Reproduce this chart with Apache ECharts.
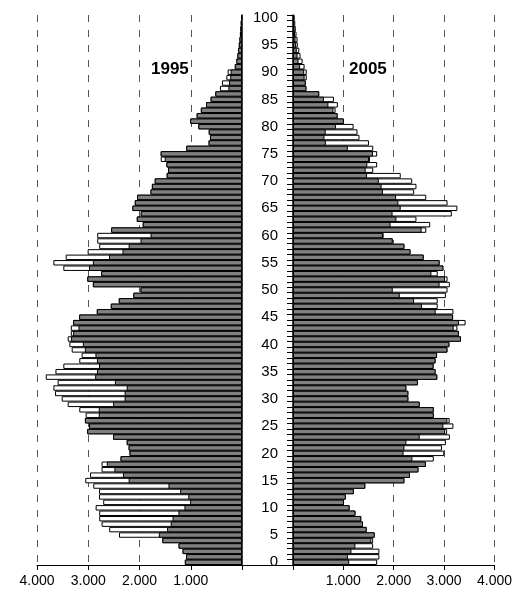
<!DOCTYPE html>
<html>
<head>
<meta charset="utf-8">
<script src="https://cdn.jsdelivr.net/npm/echarts@6/dist/echarts.min.js"></script>
<style>
html,body{margin:0;padding:0;background:#fff;}
#c{width:515px;height:592px;}
</style>
</head>
<body>
<div id="c"></div>
<script>
// Ages 0..100 (bottom to top)
var ages = [];
for (var a = 0; a <= 100; a++) ages.push(String(a));

// Grey series (same on both sides), ages 0..100
var grey = [
1115,1090,1160,1238,1555,1622,1462,1390,1355,1240,
1123,1012,1048,1207,1435,2212,2322,2490,2638,2370,
2195,2212,2250,2515,3020,2985,3065,2795,2795,2515,
2290,2290,2250,2480,2865,2830,2790,2830,2860,3066,
3105,3335,3294,3190,3294,3178,2833,2560,2404,2120,
1980,2910,3018,2748,2985,2910,2595,2332,2212,1980,
1785,2553,1937,2053,1976,2138,2092,2047,1785,1758,
1703,1470,1443,1475,1508,1587,1088,652,625,649,
852,1010,885,803,702,613,520,266,252,230,
222,140,110,90,75,62,50,40,32,25,
15];

// White series, 1995 side, ages 0..100
var white1995 = [
1115,1090,1160,1238,1555,2400,2591,2740,2786,2786,
2856,2708,2790,2790,2902,3058,2965,2740,2740,2370,
2195,2212,2250,2515,3020,2985,3065,3051,3175,3401,
3518,3648,3680,3598,3829,3640,3486,3175,3129,3323,
3369,3401,3340,3340,3294,3178,2833,2560,2404,2120,
1980,2910,3018,2748,3486,3681,3440,3012,2786,2825,
2825,2553,1937,2053,1976,2138,2092,2047,1785,1758,
1703,1470,1443,1475,1586,1587,1088,652,625,649,
852,1010,885,803,702,613,520,430,390,305,
280,140,110,90,75,62,50,40,32,25,
15];

// White series, 2005 side, ages 0..100
var white2005 = [
1671,1715,1715,1591,1591,1622,1462,1390,1355,1240,
1123,1012,1048,1207,1435,2212,2322,2490,2638,2795,
3003,2958,3036,3114,3060,3185,3110,2795,2795,2515,
2290,2290,2250,2480,2865,2830,2790,2830,2860,3066,
3105,3335,3294,3263,3426,3178,3185,2873,2873,3036,
3068,3114,3068,2873,2985,2910,2595,2332,2212,1980,
1800,2646,2724,2451,3153,3263,3068,2646,2405,2451,
2366,2139,1593,1671,1528,1671,1593,1508,1320,1281,
1203,1010,885,845,891,813,520,266,252,273,
273,230,190,150,125,95,90,70,55,45,
35];

var xTicks = [0, 1000, 2000, 3000, 4000];
var yearLeft = '1995', yearRight = '2005';

var FONT = "'Liberation Sans', Arial, sans-serif";
var chart = echarts.init(document.getElementById('c'), null, {renderer: 'canvas'});

function fmt(v){ return v ? (v/1000).toFixed(3) : ''; }

var gridTop = 15, gridH = 550;
var xCommon = function(idx, inverse){
  return {
    gridIndex: idx, type: 'value', min: xTicks[0], max: xTicks[xTicks.length-1],
    interval: xTicks[1]-xTicks[0], inverse: inverse,
    axisLine: {show: true, onZero: false, lineStyle: {color: '#000', width: 1}},
    axisTick: {show: true, length: 5, lineStyle: {color: '#000'}},
    axisLabel: {formatter: fmt, fontSize: 14, color: '#000', margin: 9, fontFamily: FONT},
    splitLine: {show: true, showMinLine: false, showMaxLine: true,
      lineStyle: {type: [7, 8], color: '#555', width: 1}}
  };
};
var barStyleGrey = {color: '#808080', borderColor: '#000', borderWidth: 1};
var barStyleWhite = {color: '#fff', borderColor: '#000', borderWidth: 1};

chart.setOption({
  animation: false,
  backgroundColor: '#fff',
  grid: [
    {left: 37, top: gridTop, width: 205, height: gridH},
    {left: 242, top: gridTop, width: 51, height: gridH},
    {left: 293, top: gridTop, width: 205, height: gridH}
  ],
  xAxis: [
    xCommon(0, true),
    {gridIndex: 1, type: 'value', min: 0, max: 1,
     axisLine: {show: true, lineStyle: {color: '#000', width: 1}},
     axisTick: {show: false}, axisLabel: {show: false}, splitLine: {show: false}},
    xCommon(2, false)
  ],
  yAxis: [
    {gridIndex: 0, type: 'category', data: ages, position: 'right',
     axisLine: {show: true, lineStyle: {color: '#000', width: 1.5}},
     axisTick: {show: false}, axisLabel: {show: false}, splitLine: {show: false}},
    {gridIndex: 1, type: 'category', data: ages, show: false},
    {gridIndex: 2, type: 'category', data: ages, position: 'left',
     axisLine: {show: true, lineStyle: {color: '#000', width: 1.5}},
     axisTick: {show: true, interval: 0, length: 6, lineStyle: {color: '#000'}},
     axisLabel: {interval: 4, fontSize: 15, color: '#000', margin: 15, fontFamily: FONT},
     splitLine: {show: false}}
  ],
  series: [
    {type: 'bar', xAxisIndex: 0, yAxisIndex: 0, data: white1995,
     barCategoryGap: '0%', barGap: '-100%', itemStyle: barStyleWhite, silent: true},
    {type: 'bar', xAxisIndex: 0, yAxisIndex: 0, data: grey,
     barCategoryGap: '0%', barGap: '-100%', itemStyle: barStyleGrey, silent: true},
    {type: 'bar', xAxisIndex: 2, yAxisIndex: 2, data: white2005,
     barCategoryGap: '0%', barGap: '-100%', itemStyle: barStyleWhite, silent: true},
    {type: 'bar', xAxisIndex: 2, yAxisIndex: 2, data: grey,
     barCategoryGap: '0%', barGap: '-100%', itemStyle: barStyleGrey, silent: true}
  ],
  graphic: [
    {type: 'text', left: 151, top: 61, z: 100,
     style: {text: yearLeft, fontSize: 17, fontWeight: 'bold', fill: '#000', font: 'bold 17px ' + FONT}},
    {type: 'text', left: 349, top: 61, z: 100,
     style: {text: yearRight, fontSize: 17, fontWeight: 'bold', fill: '#000', font: 'bold 17px ' + FONT}}
  ]
});
</script>
</body>
</html>
